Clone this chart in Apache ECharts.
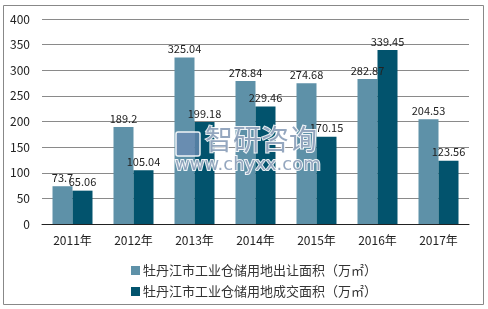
<!DOCTYPE html>
<html><head><meta charset="utf-8">
<script src="https://cdn.jsdelivr.net/npm/echarts@6/dist/echarts.min.js"></script>
<style>html,body{margin:0;padding:0;background:#fff}#c{width:488px;height:309px}</style>
</head><body><div id="c"></div>
<script>
const categories = ['2011年','2012年','2013年','2014年','2015年','2016年','2017年'];
const seriesNames = ['牡丹江市工业仓储用地出让面积（万㎡）','牡丹江市工业仓储用地成交面积（万㎡）'];
const transferArea = [73.7, 189.2, 325.04, 278.84, 274.68, 282.87, 204.53];
const dealArea = [65.06, 105.04, 199.18, 229.46, 170.15, 339.45, 123.56];
const yTicks = {min: 0, max: 400, interval: 50};

const font = "'Noto Sans CJK SC', sans-serif";
const chart = echarts.init(document.getElementById('c'), null, {renderer: 'canvas'});
const labelStyle = {show: true, position: 'top', distance: 3, color: '#222', fontSize: 11, fontFamily: font};
const wmFill = 'rgba(130,152,180,0.85)';
const wmStroke = 'rgba(255,255,255,0.9)';
chart.setOption({
  animation: false,
  backgroundColor: '#fff',
  grid: {left: 42, right: 19, top: 19, bottom: 85, containLabel: false},
  xAxis: {
    type: 'category', data: categories,
    axisLine: {lineStyle: {color: '#222', width: 1}},
    axisTick: {show: false},
    axisLabel: {color: '#222', fontSize: 12, fontFamily: font, margin: 10}
  },
  yAxis: {
    type: 'value', min: yTicks.min, max: yTicks.max, interval: yTicks.interval,
    axisLine: {show: false}, axisTick: {show: false},
    axisLabel: {color: '#222', fontSize: 12, fontFamily: font, margin: 12},
    splitLine: {lineStyle: {color: '#8a8a8a', width: 1}}
  },
  legend: {
    orient: 'vertical', left: 126, top: 259, itemWidth: 9, itemHeight: 9, itemGap: 8,
    icon: 'rect',
    textStyle: {color: '#333', fontSize: 13, fontFamily: font, padding: [0,0,0,-2]},
    data: seriesNames
  },
  graphic: [
    {type: 'rect', shape: {x: 3.5, y: 5.5, width: 480, height: 299}, style: {fill: 'none', stroke: '#888', lineWidth: 1}, silent: true},
    {type: 'rect', z: 200, shape: {x: 176, y: 132, width: 24, height: 24, r: 2}, style: {fill: 'rgba(110,140,180,0.75)', stroke: wmStroke, lineWidth: 1.5}, silent: true},
    {type: 'text', z: 200, x: 205, y: 125, style: {text: '智研咨询', fontSize: 28, fontFamily: font, fill: wmFill, stroke: wmStroke, lineWidth: 2}, silent: true},
    {type: 'text', z: 200, x: 175, y: 156, style: {text: 'www.chyxx.com', fontSize: 18, fontFamily: 'DejaVu Sans, sans-serif', fill: wmFill, stroke: wmStroke, lineWidth: 2}, silent: true}
  ],
  series: [
    {name: seriesNames[0], type: 'bar', data: transferArea, barWidth: 20, barGap: '0%',
     itemStyle: {color: '#5E91A8'}, label: labelStyle},
    {name: seriesNames[1], type: 'bar', data: dealArea, barWidth: 20,
     itemStyle: {color: '#02536D'}, label: labelStyle}
  ]
});
</script></body></html>
